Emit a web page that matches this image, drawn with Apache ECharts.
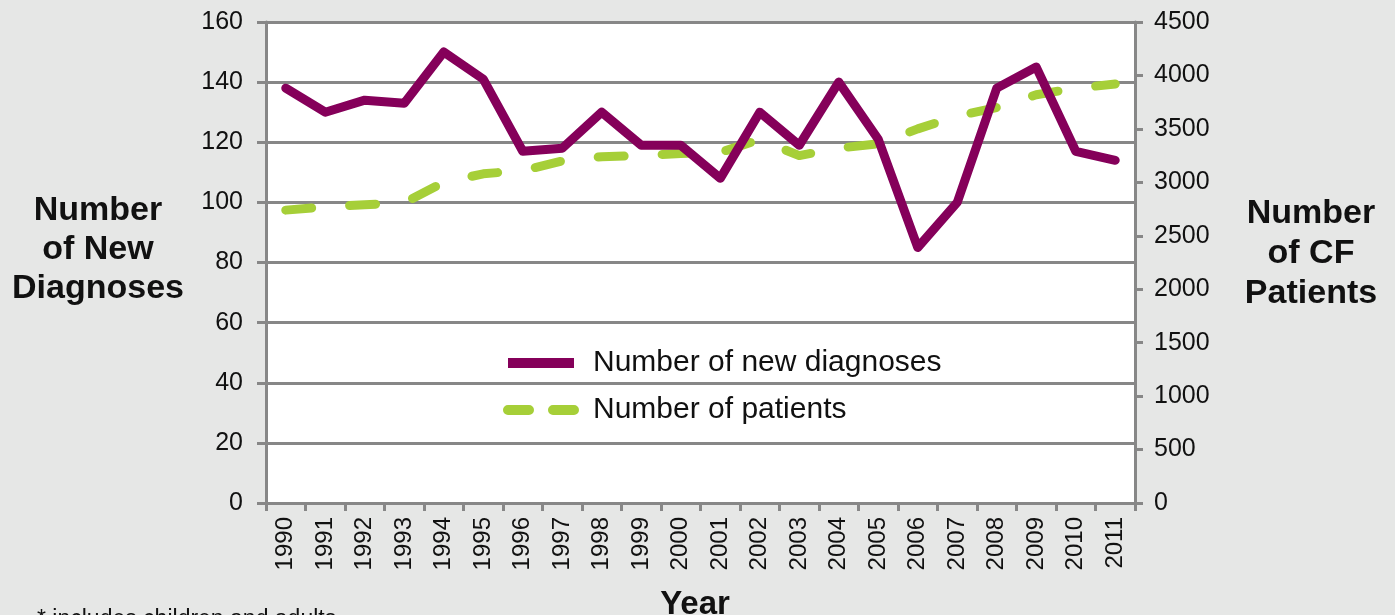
<!DOCTYPE html>
<html>
<head>
<meta charset="utf-8">
<script src="https://cdn.jsdelivr.net/npm/echarts@6/dist/echarts.min.js"></script>
<style>
  html, body { margin: 0; padding: 0; background: #e6e7e6; }
  #chart { width: 1395px; height: 615px; }
</style>
</head>
<body>
<div id="chart"></div>
<script>
// years on the x axis
const years = ["1990", "1991", "1992", "1993", "1994", "1995", "1996", "1997", "1998", "1999", "2000",
  "2001", "2002", "2003", "2004", "2005", "2006", "2007", "2008", "2009", "2010", "2011"];
// new diagnoses (left axis)
const newDiagnoses = [138, 130, 134, 133, 150, 141, 117, 118, 130, 119, 119,
  108, 130, 119, 140, 121, 85, 100, 138, 145, 117, 114];
// CF patients (right axis)
const patients = [2740, 2770, 2790, 2810, 3000, 3080, 3110, 3200, 3240, 3250, 3270,
  3280, 3400, 3250, 3320, 3360, 3500, 3620, 3700, 3820, 3880, 3920];

const FONT = "'Liberation Sans', Arial, sans-serif";
const PURPLE = "#85005a";
const GREEN = "#a6cf38";
const GRID = "#878787";

const chart = echarts.init(document.getElementById("chart"), null, { renderer: "canvas" });

chart.setOption({
  backgroundColor: "#e6e7e6",
  animation: false,
  textStyle: { fontFamily: FONT },
  grid: {
    left: 266, right: 260, top: 22, bottom: 112,
    show: true, backgroundColor: "#ffffff", borderWidth: 0,
  },
  legend: {
    orient: "vertical",
    left: 498,
    top: 343,
    itemWidth: 66,
    itemHeight: 10,
    itemGap: 17,
    textStyle: { fontSize: 30, color: "#111", fontFamily: FONT, padding: [0, 0, 0, 14] },
    data: [
      { name: "Number of new diagnoses", icon: "rect", itemStyle: { color: PURPLE } },
      {
        name: "Number of patients",
        itemStyle: { opacity: 0 },
        lineStyle: { type: [21, 24], width: 10, cap: "round" },
      },
    ],
  },
  xAxis: {
    type: "category",
    data: years,
    boundaryGap: true,
    axisLine: { lineStyle: { color: GRID, width: 3 } },
    axisTick: { show: true, length: 8, lineStyle: { color: GRID, width: 3 } },
    axisLabel: { rotate: 90, fontSize: 24, color: "#111", margin: 14, interval: 0 },
  },
  yAxis: [
    {
      type: "value",
      min: 0, max: 160, interval: 20,
      axisLine: { show: true, lineStyle: { color: GRID, width: 3 } },
      axisTick: { show: true, length: 9, lineStyle: { color: GRID, width: 3 } },
      axisLabel: { fontSize: 25, color: "#111", margin: 23 },
      splitLine: { lineStyle: { color: GRID, width: 3 } },
    },
    {
      type: "value",
      min: 0, max: 4500, interval: 500,
      position: "right",
      axisLine: { show: true, lineStyle: { color: GRID, width: 3 } },
      axisTick: { show: true, length: 8, lineStyle: { color: GRID, width: 3 } },
      axisLabel: { fontSize: 25, color: "#111", margin: 19, formatter: (v) => String(v) },
      splitLine: { show: false },
    },
  ],
  series: [
    {
      name: "Number of patients",
      type: "line",
      yAxisIndex: 1,
      data: patients,
      symbol: "none",
      color: GREEN,
      lineStyle: { color: GREEN, width: 9, type: [26, 38], cap: "round", join: "round" },
      z: 2,
    },
    {
      name: "Number of new diagnoses",
      type: "line",
      yAxisIndex: 0,
      data: newDiagnoses,
      symbol: "none",
      color: PURPLE,
      lineStyle: { color: PURPLE, width: 9, cap: "round", join: "round" },
      z: 3,
    },
  ],
  graphic: [
    {
      type: "text",
      style: {
        text: "Number\nof New\nDiagnoses", x: 98, y: 191, align: "center",
        font: "bold 34px " + FONT, fill: "#111", lineHeight: 39,
      },
    },
    {
      type: "text",
      style: {
        text: "Number\nof CF\nPatients", x: 1311, y: 194, align: "center",
        font: "bold 34px " + FONT, fill: "#111", lineHeight: 40,
      },
    },
    {
      type: "text",
      style: {
        text: "Year", x: 695, y: 588, align: "center",
        font: "bold 33px " + FONT, fill: "#111",
      },
    },
    {
      type: "text",
      style: {
        text: "* includes children and adults", x: 37, y: 608,
        font: "23px " + FONT, fill: "#111",
      },
    },
  ],
});

window.addEventListener("resize", () => chart.resize());
</script>
</body>
</html>
